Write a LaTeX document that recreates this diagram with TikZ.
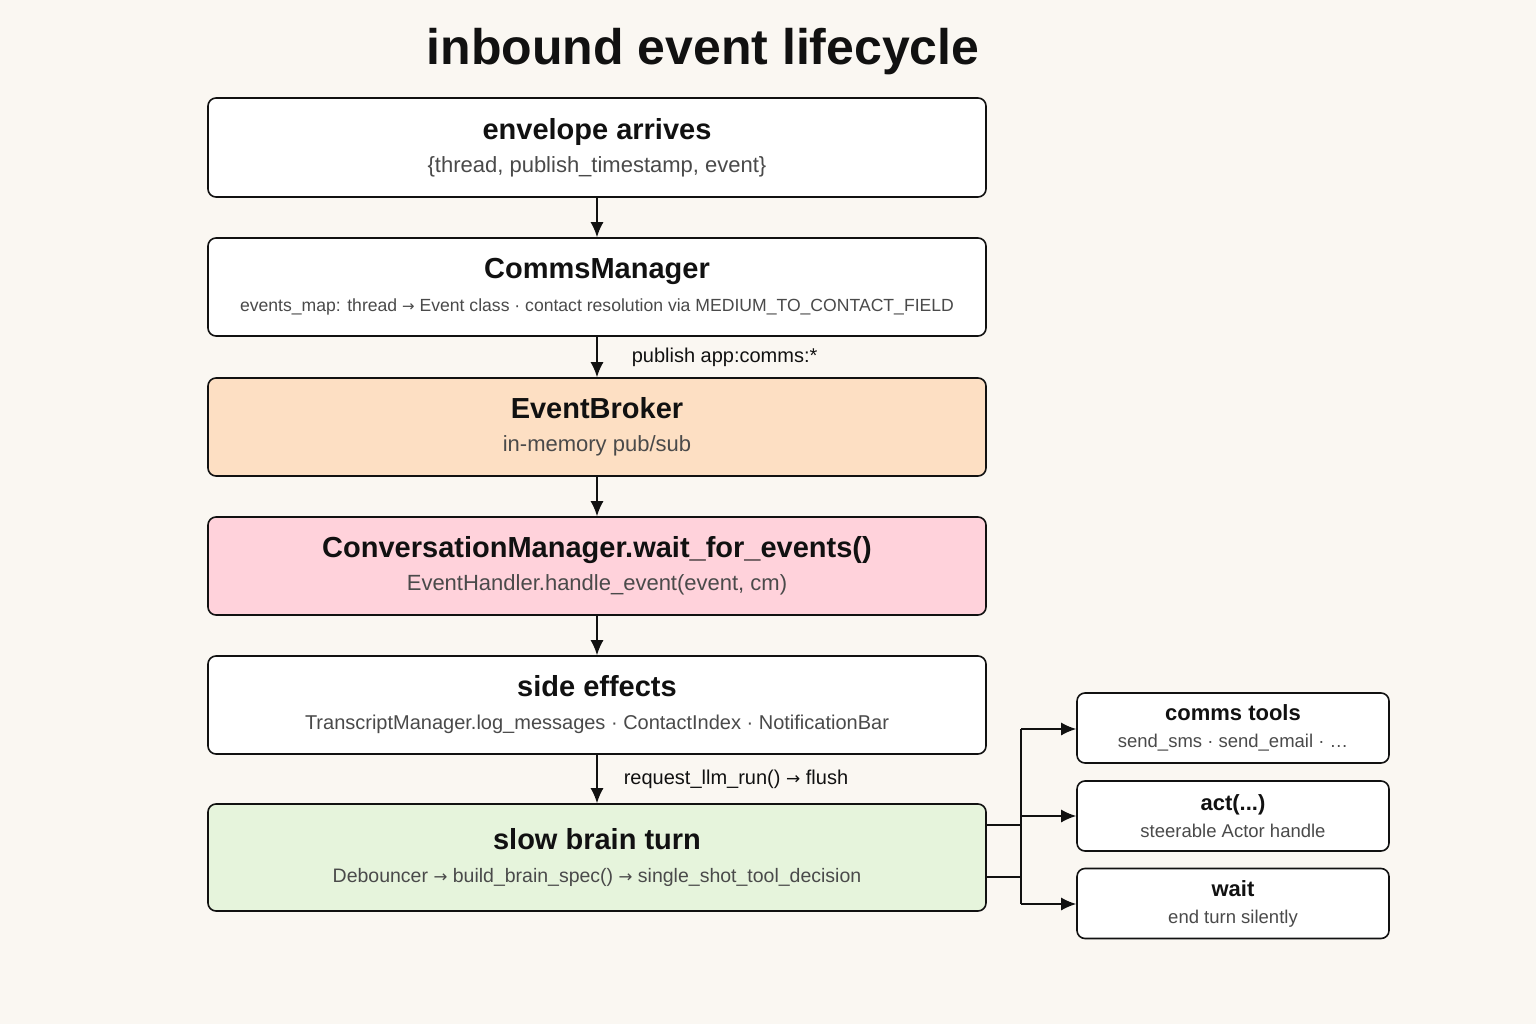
\documentclass[tikz,border=0pt]{standalone}
\usepackage{fontspec,tikz}
\setmainfont{Liberation Sans}
\newfontfamily\arrowfont{DejaVu Sans}
\usetikzlibrary{arrows.meta}
\definecolor{paper}{HTML}{FAF7F2}
\definecolor{ink}{HTML}{111111}
\definecolor{subink}{HTML}{4A4A4A}
\definecolor{peach}{HTML}{FDDFC3}
\definecolor{rose}{HTML}{FFD2DB}
\definecolor{mint}{HTML}{E6F4DC}
\newcommand{\boxtitle}[1]{{\fontsize{29}{33}\selectfont\bfseries #1}}
\newcommand{\boxnote}[2][22]{{\fontsize{#1}{33}\selectfont\color{subink}#2}}
\newcommand{\sidetitle}[1]{{\fontsize{22}{27}\selectfont\bfseries #1}}
\newcommand{\sidenote}[1]{{\fontsize{18.5}{27}\selectfont\color{subink}#1}}
\newcommand{\rarr}{{\arrowfont\addfontfeature{Scale=0.85}→}}
\begin{document}
\begin{tikzpicture}[x=1pt,y=-1pt,
  stage/.style={draw=ink,line width=1.6pt,rounded corners=8pt,fill=white,minimum width=778pt,align=center,inner sep=0pt,text=ink,font=\fontsize{22}{33}\selectfont},
  choice/.style={draw=ink,line width=1.6pt,rounded corners=8pt,fill=white,minimum width=312pt,minimum height=70pt,align=center,inner sep=0pt,text=ink,font=\fontsize{18}{27}\selectfont},
  flow/.style={draw=ink,line width=1.6pt,-{Latex[length=15pt,width=13pt]}},
  wire/.style={draw=ink,line width=1.6pt},
  edgelabel/.style={anchor=west,inner sep=0pt,text=ink,font=\fontsize{20}{24}\selectfont}]
\path[use as bounding box,fill=paper] (0,0) rectangle (1536,1024);
\node[inner sep=0pt,text=ink,font=\fontsize{50}{58}\selectfont\bfseries] (title) at (703,52) {inbound event lifecycle};
\node[stage,minimum height=99pt] (envelope) at (597,147.5) {\boxtitle{envelope arrives}\\\boxnote{\{thread, publish\_timestamp, event\}}};
\node[stage,minimum height=98pt] (comms) at (597,287) {\boxtitle{CommsManager}\\\boxnote[17.6]{events\_map: thread \rarr{} Event class · contact resolution via MEDIUM\_TO\_CONTACT\_FIELD}};
\node[stage,minimum height=98pt,fill=peach] (broker) at (597,427) {\boxtitle{EventBroker}\\\boxnote{in-memory pub/sub}};
\node[stage,minimum height=98pt,fill=rose] (convo) at (597,566) {\boxtitle{ConversationManager.wait\_for\_events()}\\\boxnote{EventHandler.handle\_event(event, cm)}};
\node[stage,minimum height=98pt] (effects) at (597,705) {\boxtitle{side effects}\\\boxnote[20]{TranscriptManager.log\_messages · ContactIndex · NotificationBar}};
\node[stage,minimum height=107pt,fill=mint] (brain) at (597,857.5) {\boxtitle{slow brain turn}\\\boxnote[19.5]{Debouncer \rarr{} build\_brain\_spec() \rarr{} single\_shot\_tool\_decision}};
\node[choice] (tools) at (1233,728) {\sidetitle{comms tools}\\\sidenote{send\_sms · send\_email · …}};
\node[choice] (act) at (1233,816) {\sidetitle{act(...)}\\\sidenote{steerable Actor handle}};
\node[choice] (wait) at (1233,903.5) {\sidetitle{wait}\\\sidenote{end turn silently}};
\draw[flow] (envelope) -- (comms);
\draw[flow] (comms) -- node[edgelabel,xshift=34pt] (publish) {publish app:comms:*} (broker);
\draw[flow] (broker) -- (convo);
\draw[flow] (convo) -- (effects);
\draw[flow] (effects) -- node[edgelabel,xshift=26pt] (flush) {request\_llm\_run() \rarr{} flush} (brain);
\coordinate (forktop) at (1021,729);
\coordinate (forkmid) at (1021,816);
\coordinate (forkbot) at (1021,904);
\draw[wire] ([yshift=32.5pt]brain.east) -- ([yshift=32.5pt]brain.east -| forktop);
\draw[wire] ([yshift=-19.5pt]brain.east) -- ([yshift=-19.5pt]brain.east -| forktop);
\draw[wire] (forktop) -- (forkbot);
\draw[flow] (forktop) -- (forktop -| tools.west);
\draw[flow] (forkmid) -- (forkmid -| act.west);
\draw[flow] (forkbot) -- (forkbot -| wait.west);
\end{tikzpicture}
\end{document}
